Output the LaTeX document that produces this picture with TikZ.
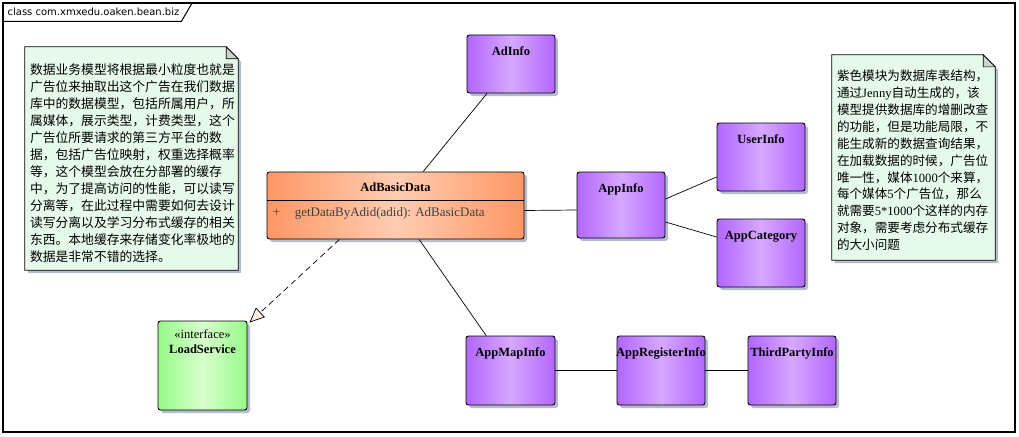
\documentclass[tikz,border=0pt]{standalone}
\usepackage{fontspec}
\setmainfont{Liberation Serif}
\newfontfamily\cjkfont{Noto Sans CJK SC}
\newfontfamily\tabfont{DejaVu Sans}
\usetikzlibrary{arrows.meta, shadows}

\definecolor{tblDark}{RGB}{178,102,255}
\definecolor{tblLight}{RGB}{214,168,255}
\definecolor{biDark}{RGB}{255,150,100}
\definecolor{biLight}{RGB}{255,205,178}
\definecolor{ifDark}{RGB}{150,250,135}
\definecolor{ifLight}{RGB}{215,255,205}
\definecolor{noteFill}{RGB}{230,250,236}
\definecolor{foldFill}{RGB}{200,212,204}
\definecolor{shadowCol}{RGB}{180,188,204}
\definecolor{tipFill}{RGB}{255,240,225}

\newcommand{\lat}[1]{{\rmfamily #1}}

\begin{document}
\begin{tikzpicture}[x=1pt, y=-1pt,
  boxshadow/.style={general shadow={shadow xshift=3pt, shadow yshift=-3pt, fill=shadowCol}},
  title/.style={font=\fontsize{12.5pt}{14pt}\selectfont\bfseries, inner sep=0pt},
  stereo/.style={font=\fontsize{12.5pt}{14pt}\selectfont, inner sep=0pt},
  method/.style={font=\fontsize{13pt}{15pt}\selectfont, text=black!75, inner sep=0pt},
  cls/.style={draw=black, line width=0.9pt, rounded corners=2.5pt, minimum width=88pt, minimum height=68pt, inner sep=0pt, boxshadow},
  tbl/.style={cls, left color=tblDark, right color=tblDark, middle color=tblLight, label={[title, anchor=base, yshift=-21pt]north:#1}},
  note/.style={inner sep=0pt, draw=none},
  notebox/.style={draw=black, line width=0.8pt, fill=noteFill, boxshadow},
  fold/.style={draw=black, line width=0.6pt, fill=foldFill},
  notetext/.style={align=left, inner sep=0pt, anchor=north west},
  link/.style={draw=black, line width=0.7pt},
  realize/.style={draw=black, line width=0.7pt, dash pattern=on 6pt off 4pt, -{Triangle[length=15pt, width=13pt, fill=tipFill]}}
]
  \useasboundingbox (0,0) rectangle (1019,436);

  % package frame
  \node[draw=black, line width=1.2pt, minimum width=1012pt, minimum height=429pt, inner sep=0pt] (frame) at (509,217.5) {};
  \node[anchor=west, font=\tabfont\fontsize{10pt}{12pt}\selectfont, inner sep=0pt] (ftitle) at ([shift={(5pt,-9.5pt)}]frame.north west) {class com.xmxedu.oaken.bean.biz};
  \draw[line width=1pt] ([yshift=-19pt]frame.north west) -- ([shift={(179pt,-19pt)}]frame.north west) -- ([xshift=190pt]frame.north west);

  % notes
  \node[note, minimum width=213pt, minimum height=223pt] (lnote) at (131.5,158.5) {};
  \draw[notebox] (lnote.north west) -- ([xshift=-12pt]lnote.north east) -- ([yshift=-12pt]lnote.north east) -- (lnote.south east) -- (lnote.south west) -- cycle;
  \draw[fold] ([xshift=-12pt]lnote.north east) -- ([shift={(-12pt,-12pt)}]lnote.north east) -- ([yshift=-12pt]lnote.north east) -- cycle;
  \node[notetext, font=\cjkfont\fontsize{12.8pt}{17pt}\selectfont] (ltext) at ([shift={(5pt,-17pt)}]lnote.north west) {数据业务模型将根据最小粒度也就是\\广告位来抽取出这个广告在我们数据\\库中的数据模型，包括所属用户，所\\属媒体，展示类型，计费类型，这个\\广告位所要请求的第三方平台的数\\据，包括广告位映射，权重选择概率\\等，这个模型会放在分部署的缓存\\中，为了提高访问的性能，可以读写\\分离等，在此过程中需要如何去设计\\读写分离以及学习分布式缓存的相关\\东西。本地缓存来存储变化率极地的\\数据是非常不错的选择。};

  \node[note, minimum width=163pt, minimum height=205pt] (rnote) at (913.5,157.5) {};
  \draw[notebox] (rnote.north west) -- ([xshift=-12pt]rnote.north east) -- ([yshift=-12pt]rnote.north east) -- (rnote.south east) -- (rnote.south west) -- cycle;
  \draw[fold] ([xshift=-12pt]rnote.north east) -- ([shift={(-12pt,-12pt)}]rnote.north east) -- ([yshift=-12pt]rnote.north east) -- cycle;
  \node[notetext, font=\cjkfont\fontsize{12.6pt}{16.9pt}\selectfont] (rtext) at ([shift={(5pt,-15pt)}]rnote.north west) {紫色模块为数据库表结构，\\通过\lat{Jenny}自动生成的，该\\模型提供数据库的增删改查\\的功能，但是功能局限，不\\能生成新的数据查询结果，\\在加载数据的时候，广告位\\唯一性，媒体\lat{1000}个来算，\\每个媒体\lat{5}个广告位，那么\\就需要\lat{5*1000}个这样的内存\\对象，需要考虑分布式缓存\\的大小问题};

  % classes
  \node[cls, minimum width=257pt, minimum height=67pt, left color=biDark, right color=biDark, middle color=biLight, label={[title, anchor=base, yshift=-20pt]north:AdBasicData}] (adbasic) at (395.5,205.5) {};
  \draw[line width=0.8pt] ([yshift=-29pt]adbasic.north west) -- ([yshift=-29pt]adbasic.north east);
  \node[method, anchor=base west] (plus) at ([shift={(6pt,-45pt)}]adbasic.north west) {+};
  \node[method, anchor=base west] (getdata) at ([shift={(28pt,-45pt)}]adbasic.north west) {getDataByAdid(adid): AdBasicData};

  \node[cls, minimum width=89pt, minimum height=89pt, left color=ifDark, right color=ifDark, middle color=ifLight, label={[stereo, anchor=base, yshift=-18pt]north:«interface»}, label={[title, anchor=base, yshift=-33pt]north:LoadService}] (load) at (202.5,365.5) {};

  \node[tbl=AdInfo, minimum height=58pt] (adinfo) at (511,64) {};
  \node[tbl=UserInfo] (userinfo) at (761,157) {};
  \node[tbl=AppInfo, minimum height=66pt] (appinfo) at (621,205) {};
  \node[tbl=AppCategory] (appcat) at (761,253) {};
  \node[tbl=AppMapInfo, minimum width=89pt, minimum height=69pt] (appmap) at (510.5,370.5) {};
  \node[tbl=AppRegisterInfo, minimum height=69pt] (appreg) at (661,370.5) {};
  \node[tbl=ThirdPartyInfo, minimum height=69pt] (thirdparty) at (792,370.5) {};

  % connectors
  \draw[link] (adinfo) -- (adbasic);
  \draw[link] ([yshift=-5pt]adbasic.east) -- ([yshift=-5pt]appinfo.west);
  \draw[link] ([yshift=6pt]appinfo.east) -- ([yshift=-20pt]userinfo.west);
  \draw[link] ([yshift=-17pt]appinfo.east) -- ([yshift=16pt]appcat.west);
  \draw[link] (adbasic) -- (appmap);
  \draw[link] (appmap) -- (appreg);
  \draw[link] (appreg) -- (thirdparty);
  \draw[realize] ([xshift=-56pt]adbasic.south) -- ([shift={(2pt,-2pt)}]load.north east);
\end{tikzpicture}
\end{document}
